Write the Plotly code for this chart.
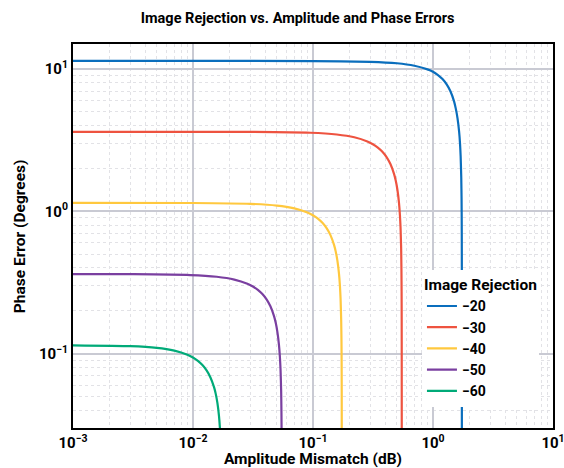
import plotly.graph_objects as go

# ---- data ----
names = ["−20", "−30", "−40", "−50", "−60"]
colors = ["#0A6EBD", "#EE5340", "#FFC83E", "#7A3FA0", "#00AA78"]

x_m20 = [0.001, 0.01, 0.1, 0.3, 0.5, 0.7, 0.9, 1.0, 1.1, 1.2, 1.3, 1.4, 1.5, 1.55, 1.6, 1.65,
         1.68, 1.70, 1.72, 1.73, 1.735, 1.738, 1.7395, 1.7399, 1.74]
y_m20 = [11.42, 11.42, 11.38, 11.25, 10.98, 10.55, 9.95, 9.58, 9.08, 8.5, 7.8, 6.95, 5.9, 5.25,
         4.52, 3.64, 2.98, 2.43, 1.72, 1.22, 0.863, 0.547, 0.272, 0.122, 0.02]

x_m30 = [0.001, 0.01, 0.0316, 0.0947, 0.1578, 0.2209, 0.284, 0.3155, 0.347, 0.3786, 0.4102, 0.4417,
         0.4733, 0.489, 0.5048, 0.5206, 0.5301, 0.5364, 0.5427, 0.5458, 0.5474, 0.5484, 0.54884,
         0.54897, 0.549]
y_m30 = [3.62, 3.62, 3.614, 3.566, 3.467, 3.314, 3.098, 2.963, 2.805, 2.621, 2.406, 2.150, 1.835,
         1.645, 1.423, 1.149, 0.943, 0.772, 0.547, 0.388, 0.274, 0.174, 0.0865, 0.0387, 0.02]

x_m40 = [0.001, 0.01, 0.02995, 0.04992, 0.06988, 0.08984, 0.09983, 0.1098, 0.1198, 0.1298, 0.1398,
         0.1497, 0.1547, 0.1597, 0.1647, 0.1677, 0.1697, 0.1717, 0.1727, 0.1732, 0.1735, 0.17365,
         0.17369]
y_m40 = [1.146, 1.144, 1.129, 1.098, 1.049, 0.981, 0.938, 0.888, 0.830, 0.762, 0.680, 0.581, 0.521,
         0.4505, 0.3639, 0.2984, 0.2443, 0.1732, 0.1227, 0.0868, 0.055, 0.0274, 0.0123]

x_m50 = [0.001, 0.00316, 0.00947, 0.01578, 0.02209, 0.0284, 0.03155, 0.0347, 0.03786, 0.04102,
         0.04417, 0.04733, 0.0489, 0.05048, 0.05206, 0.05301, 0.05364, 0.05427, 0.05458, 0.05474,
         0.05484]
y_m50 = [0.362, 0.3614, 0.3566, 0.3467, 0.3314, 0.3098, 0.2963, 0.2805, 0.2621, 0.2406, 0.215,
         0.1835, 0.1645, 0.1423, 0.1149, 0.0943, 0.0772, 0.0547, 0.0388, 0.0274, 0.0174]

x_m60 = [0.001, 0.002995, 0.004992, 0.006988, 0.008984, 0.009983, 0.01098, 0.01198, 0.01298,
         0.01398, 0.01497, 0.01547, 0.01597, 0.01647, 0.01677, 0.01697, 0.01717]
y_m60 = [0.1144, 0.1129, 0.1098, 0.1049, 0.0981, 0.0938, 0.0888, 0.0830, 0.0762, 0.0680, 0.0581,
         0.0521, 0.0450, 0.0364, 0.0298, 0.0244, 0.0173]

xs = [x_m20, x_m30, x_m40, x_m50, x_m60]
ys = [y_m20, y_m30, y_m40, y_m50, y_m60]

x_tickvals = [0.001, 0.01, 0.1, 1, 10]
x_ticktext = ["10<sup>−3</sup>", "10<sup>−2</sup>", "10<sup>−1</sup>", "10<sup>0</sup>", "10<sup>1</sup>"]
y_tickvals = [0.1, 1, 10]
y_ticktext = ["10<sup>−1</sup>", "10<sup>0</sup>", "10<sup>1</sup>"]

FONT = "Roboto"

fig = go.Figure()
for n, c, x, y in zip(names, colors, xs, ys):
    fig.add_trace(go.Scatter(x=x, y=y, mode="lines", name=n,
                             line=dict(color=c, width=2.2, shape="spline", smoothing=0.5)))

axis_common = dict(
    type="log", ticklabeloverflow="allow", automargin=False,
    showline=True, linecolor="black", linewidth=2, mirror=True,
    showgrid=True, gridcolor="#C9CAD3", gridwidth=1.5,
    ticks="", zeroline=False,
    tickfont=dict(family=FONT, size=15, color="black", weight=700),
    minor=dict(dtick="D1", showgrid=True, gridcolor="#E2E2E6", griddash="3px,3px", gridwidth=1, ticks=""),
)

fig.update_layout(
    width=564, height=468,
    margin=dict(l=73, r=11, t=44, b=40),
    paper_bgcolor="white", plot_bgcolor="white",
    title=dict(text="Image Rejection vs. Amplitude and Phase Errors",
               x=0.468, xref="paper", xanchor="center", y=0.962, yref="container", yanchor="middle",
               font=dict(family=FONT, size=14.5, color="black", weight=700)),
    xaxis=dict(**axis_common, range=[-3, 1], tickmode="array",
               tickvals=x_tickvals, ticktext=x_ticktext,
               title=dict(text="Amplitude Mismatch (dB)", standoff=6,
                          font=dict(family=FONT, size=15.5, color="black", weight=700))),
    yaxis=dict(**axis_common, range=[-1.5229, 1.1761], tickmode="array",
               tickvals=y_tickvals, ticktext=y_ticktext),
    legend=dict(title=dict(text="Image Rejection", font=dict(family=FONT, size=15.5, color="black", weight=700)),
                font=dict(family=FONT, size=14, color="black", weight=700),
                x=0.727, xanchor="left", y=0.054, yanchor="bottom",
                bgcolor="white", borderwidth=0, itemwidth=30, tracegroupgap=0),
    showlegend=True,
)

# y-axis title as rotated text, positioned as in the reference
fig.add_annotation(text="Phase Error (Degrees)", textangle=-90,
                   xref="paper", yref="paper", x=-0.110, y=0.5,
                   xanchor="center", yanchor="middle", showarrow=False,
                   font=dict(family=FONT, size=15.5, color="black", weight=700))

fig.write_html("out.html")
